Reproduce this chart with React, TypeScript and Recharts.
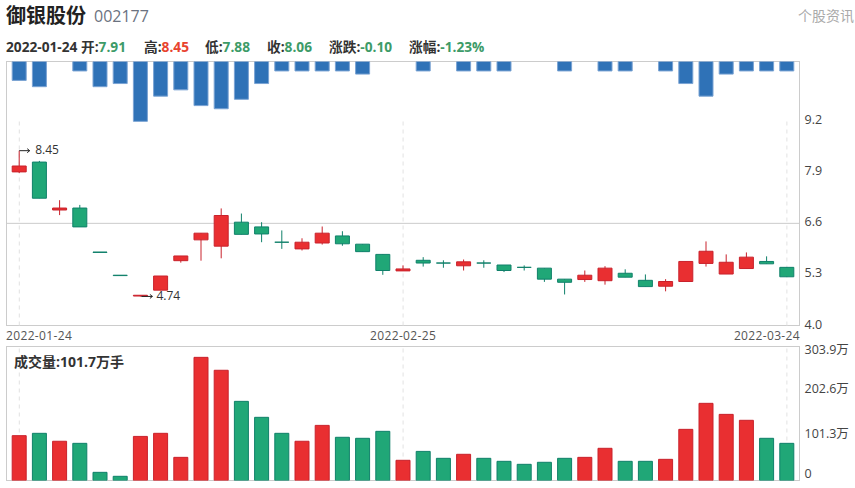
import React from "react";
import { ComposedChart, Bar, XAxis, YAxis, ReferenceLine, Cell } from "recharts";

const dates = [
  "2022-01-24","2022-01-25","2022-01-26","2022-01-27","2022-01-28",
  "2022-02-07","2022-02-08","2022-02-09","2022-02-10","2022-02-11",
  "2022-02-14","2022-02-15","2022-02-16","2022-02-17","2022-02-18",
  "2022-02-21","2022-02-22","2022-02-23","2022-02-24","2022-02-25",
  "2022-02-28","2022-03-01","2022-03-02","2022-03-03","2022-03-04",
  "2022-03-07","2022-03-08","2022-03-09","2022-03-10","2022-03-11",
  "2022-03-14","2022-03-15","2022-03-16","2022-03-17","2022-03-18",
  "2022-03-21","2022-03-22","2022-03-23","2022-03-24",
];
const opens = [7.91,8.16,6.94,6.99,5.87,5.28,4.75,4.90,5.65,6.18,6.02,6.63,6.51,6.12,5.95,6.10,6.28,6.07,5.81,5.39,5.66,5.59,5.52,5.59,5.54,5.48,5.46,5.18,5.17,5.14,5.33,5.15,5.00,5.12,5.58,5.31,5.45,5.63,5.48];
const closes = [8.06,7.24,6.99,6.51,5.86,5.27,4.77,5.26,5.77,6.35,6.80,6.32,6.33,6.12,6.12,6.35,6.08,5.88,5.40,5.44,5.59,5.59,5.62,5.59,5.40,5.48,5.18,5.10,5.28,5.46,5.23,4.99,5.12,5.63,5.89,5.61,5.74,5.57,5.24];
const highs = [8.45,8.19,7.19,7.07,5.87,5.28,4.77,5.26,5.77,6.35,6.98,6.85,6.63,6.42,6.22,6.52,6.40,6.07,5.81,5.53,5.74,5.66,5.68,5.66,5.54,5.53,5.46,5.18,5.40,5.51,5.43,5.30,5.18,5.63,6.14,5.81,5.86,5.76,5.48];
const lows = [7.88,7.24,6.81,6.51,5.86,5.27,4.74,4.90,5.60,5.65,5.71,6.32,6.12,5.95,5.91,6.06,6.03,5.88,5.29,5.39,5.50,5.47,5.40,5.47,5.36,5.40,5.11,4.79,5.11,5.04,5.23,4.99,4.87,5.12,5.50,5.31,5.45,5.57,5.24];
const volumes = [101.7,107,89,84.3,18.5,9.5,100,107,52.5,279.3,250,179.5,143.3,107,89,125,98,95.7,111.5,45.8,66,50.3,59.4,50.3,43.5,36.7,41.3,50.3,52.5,73,43.5,43.5,48,116,175,150,136.5,95.7,84.3];
const signals = [6,8,0,3,8,7,19,11,9,14,15,12,7,3,3,3,3,4,0,0,3,0,3,3,3,0,0,3,0,3,3,0,3,7,11,4,3,3,3];

const priceTicks = [4, 5.3, 6.6, 7.9, 9.2];
const volumeTicks = [0, 101.3, 202.6, 303.9];
const dateTicks = ["2022-01-24", "2022-02-25", "2022-03-24"];

const rows = dates.map((date, i) => ({
  date, open: opens[i], close: closes[i], high: highs[i], low: lows[i],
  volume: volumes[i], signal: signals[i] || null,
}));
const maxHigh = Math.max(...highs);
const minLow = Math.min(...lows);

const RED = "#e92f31", RED_EDGE = "#c9222c", GREEN = "#20a777", GREEN_EDGE = "#10806a", BLUE = "#2f72b7", BLUE_EDGE = "#7aa3d3";
const FONT = '"Open Sans","Noto Sans CJK SC",sans-serif';
const PAD = { left: 2.7, right: 2.5 };

function Candle(props: any) {
  const { x, y, width, height, payload } = props;
  const up = payload.close > payload.open;
  const span = payload.high - payload.low;
  const h = Math.abs(height);
  const ppu = span > 0 ? h / span : 0;
  const top = y + (payload.high - Math.max(payload.open, payload.close)) * ppu;
  const bot = y + (payload.high - Math.min(payload.open, payload.close)) * ppu;
  const cx = x + width / 2;
  const edge = up ? RED_EDGE : GREEN_EDGE;
  const hi = payload.high === maxHigh;
  const lo = payload.low === minLow;
  const lowY = y + h;
  return (
    <g>
      <line x1={cx} x2={cx} y1={y} y2={y + h} stroke={edge} strokeWidth={1} />
      <path d={`M${x} ${top}H${x + width}V${bot}H${x}Z`} fill={up ? RED : GREEN} stroke={edge} strokeWidth={1} />
      {hi && (
        <g>
          <path d={`M${cx} ${y}H${cx + 10.5}M${cx + 8} ${y - 2}L${cx + 10.5} ${y}L${cx + 8} ${y + 2}`} stroke="#222" fill="none" strokeWidth={1} />
          <text x={cx + 16} y={y + 3.5} fontSize={12} fill="#333" fontFamily={FONT}>{payload.high.toFixed(2)}</text>
        </g>
      )}
      {lo && (
        <g>
          <path d={`M${cx + 1} ${lowY}H${cx + 12}M${cx + 9.5} ${lowY - 2}L${cx + 12} ${lowY}L${cx + 9.5} ${lowY + 2}`} stroke="#222" fill="none" strokeWidth={1} />
          <text x={cx + 16} y={lowY + 3.5} fontSize={12} fill="#333" fontFamily={FONT}>{payload.low.toFixed(2)}</text>
        </g>
      )}
    </g>
  );
}

function DateTick(props: any) {
  const { x, y, payload } = props;
  const idx = dateTicks.indexOf(payload.value);
  const anchor = idx === 0 ? "start" : idx === 2 ? "end" : "middle";
  const tx = idx === 0 ? 6 : idx === 2 ? 800 : x;
  return <text x={tx} y={y + 6} textAnchor={anchor} fontSize={12} letterSpacing={0.35} fill="#555" fontFamily={FONT}>{payload.value}</text>;
}

function PriceTick(props: any) {
  const { x, y, payload } = props;
  return <text x={x - 3} y={y + 3} fontSize={12.5} fill="#444" fontFamily={FONT}>{payload.value.toFixed(1)}</text>;
}

function VolumeTick(props: any) {
  const { x, y, payload } = props;
  const v = payload.value;
  const dy = v === 303.9 ? 3.5 : v === 0 ? -7 : -1.7;
  return <text x={x - 3} y={y + dy + 4} fontSize={12.5} fill="#444" fontFamily={FONT}>{v === 0 ? "0" : `${v}万`}</text>;
}

const abs = (s: any): React.CSSProperties => ({ position: "absolute", whiteSpace: "nowrap", ...s });
const Stat = ({ x, label, value, color }: any) => (
  <span style={abs({ left: x, top: 39, fontSize: 13.7, fontWeight: 700, lineHeight: "16px", color: "#333" })}>
    {label}<span style={{ color }}>{value}</span>
  </span>
);

const chartStyle: React.CSSProperties = { position: "absolute", left: 0, top: 0 };
const UP_TEXT = "#e8432e", DOWN_TEXT = "#3d9b68";

export default function App() {
  return (
    <div style={{ position: "absolute", left: 0, top: 0, width: 855, height: 488, overflow: "hidden", background: "#fff", fontFamily: FONT }}>
      <span style={abs({ left: 6, top: 3, fontSize: 20, fontWeight: 700, lineHeight: "26px", color: "#222" })}>御银股份</span>
      <span style={abs({ left: 94, top: 5, fontSize: 16, lineHeight: "22px", color: "#6b7280" })}>002177</span>
      <span style={abs({ left: 798, top: 7, fontSize: 14, lineHeight: "18px", color: "#aaa" })}>个股资讯</span>
      <Stat x={6} label="2022-01-24 开:" value="7.91" color={DOWN_TEXT} />
      <Stat x={144} label="高:" value="8.45" color={UP_TEXT} />
      <Stat x={205} label="低:" value="7.88" color={DOWN_TEXT} />
      <Stat x={267} label="收:" value="8.06" color={DOWN_TEXT} />
      <Stat x={329} label="涨跌:" value="-0.10" color={DOWN_TEXT} />
      <Stat x={409} label="涨幅:" value="-1.23%" color={DOWN_TEXT} />

      <div style={abs({ left: 6, top: 61, width: 794, height: 265, border: "1px solid #ccc", boxSizing: "border-box" })} />
      <div style={abs({ left: 6, top: 346, width: 794, height: 135, border: "1px solid #ccc", boxSizing: "border-box" })} />

      {/* price panel: axes and guide lines, behind the marks */}
      <ComposedChart width={855} height={488} data={rows} style={chartStyle} margin={{ top: 61.5, right: 0, left: 6.5, bottom: 142.5 }}>
        <XAxis dataKey="date" scale="band" interval={0} ticks={dateTicks} height={20} padding={PAD} axisLine={false} tickLine={false} tick={<DateTick />} />
        <YAxis orientation="right" width={55.5} domain={[4, 10.72]} ticks={priceTicks} interval={0} allowDataOverflow axisLine={false} tickLine={false} tick={<PriceTick />} />
        <ReferenceLine y={6.6} stroke="#ccc" strokeWidth={1} />
        {dateTicks.map((d) => (
          <ReferenceLine key={d} segment={[{ x: d, y: 4 }, { x: d, y: 9.2 }]} stroke="#e2e2e2" strokeDasharray="4 4" />
        ))}
      </ComposedChart>

      {/* candles */}
      <ComposedChart width={855} height={488} data={rows} style={chartStyle} margin={{ top: 61.5, right: 55.5, left: 6.5, bottom: 162.5 }}>
        <XAxis dataKey="date" hide padding={PAD} />
        <YAxis hide domain={[4, 10.72]} allowDataOverflow />
        <Bar dataKey={(r: any) => [r.low, r.high]} barSize={14} shape={<Candle />} isAnimationActive={false} />
      </ComposedChart>

      {/* signal bars hanging from the top edge */}
      <ComposedChart width={855} height={488} data={rows} style={chartStyle} margin={{ top: 61.5, right: 55.5, left: 6.5, bottom: 162.5 }}>
        <XAxis dataKey="date" hide padding={PAD} />
        <YAxis hide reversed domain={[0, 83.8]} allowDataOverflow />
        <Bar dataKey="signal" barSize={14} fill={BLUE} stroke={BLUE_EDGE} strokeWidth={1} isAnimationActive={false} />
      </ComposedChart>

      {/* volume panel: axis and guide lines */}
      <ComposedChart width={855} height={488} data={rows} style={chartStyle} margin={{ top: 346.5, right: 0, left: 6.5, bottom: 7.5 }}>
        <XAxis dataKey="date" scale="band" hide padding={PAD} />
        <YAxis orientation="right" width={55.5} domain={[0, 303.9]} ticks={volumeTicks} interval={0} allowDataOverflow axisLine={false} tickLine={false} tick={<VolumeTick />} />
        {dateTicks.map((d) => (
          <ReferenceLine key={d} x={d} stroke="#e2e2e2" strokeDasharray="4 4" />
        ))}
      </ComposedChart>

      {/* volume bars */}
      <ComposedChart width={855} height={488} data={rows} style={chartStyle} margin={{ top: 346.5, right: 55.5, left: 6.5, bottom: 7.5 }}>
        <XAxis dataKey="date" hide padding={PAD} />
        <YAxis hide domain={[0, 303.9]} allowDataOverflow />
        <Bar dataKey="volume" barSize={14} strokeWidth={1} isAnimationActive={false}>
          {rows.map((r) => (
            <Cell key={r.date} fill={r.close > r.open ? RED : GREEN} stroke={r.close > r.open ? RED_EDGE : GREEN_EDGE} />
          ))}
        </Bar>
      </ComposedChart>

      <span style={abs({ left: 14, top: 354, fontSize: 14, fontWeight: 700, lineHeight: "16px", color: "#333" })}>成交量:101.7万手</span>
    </div>
  );
}
